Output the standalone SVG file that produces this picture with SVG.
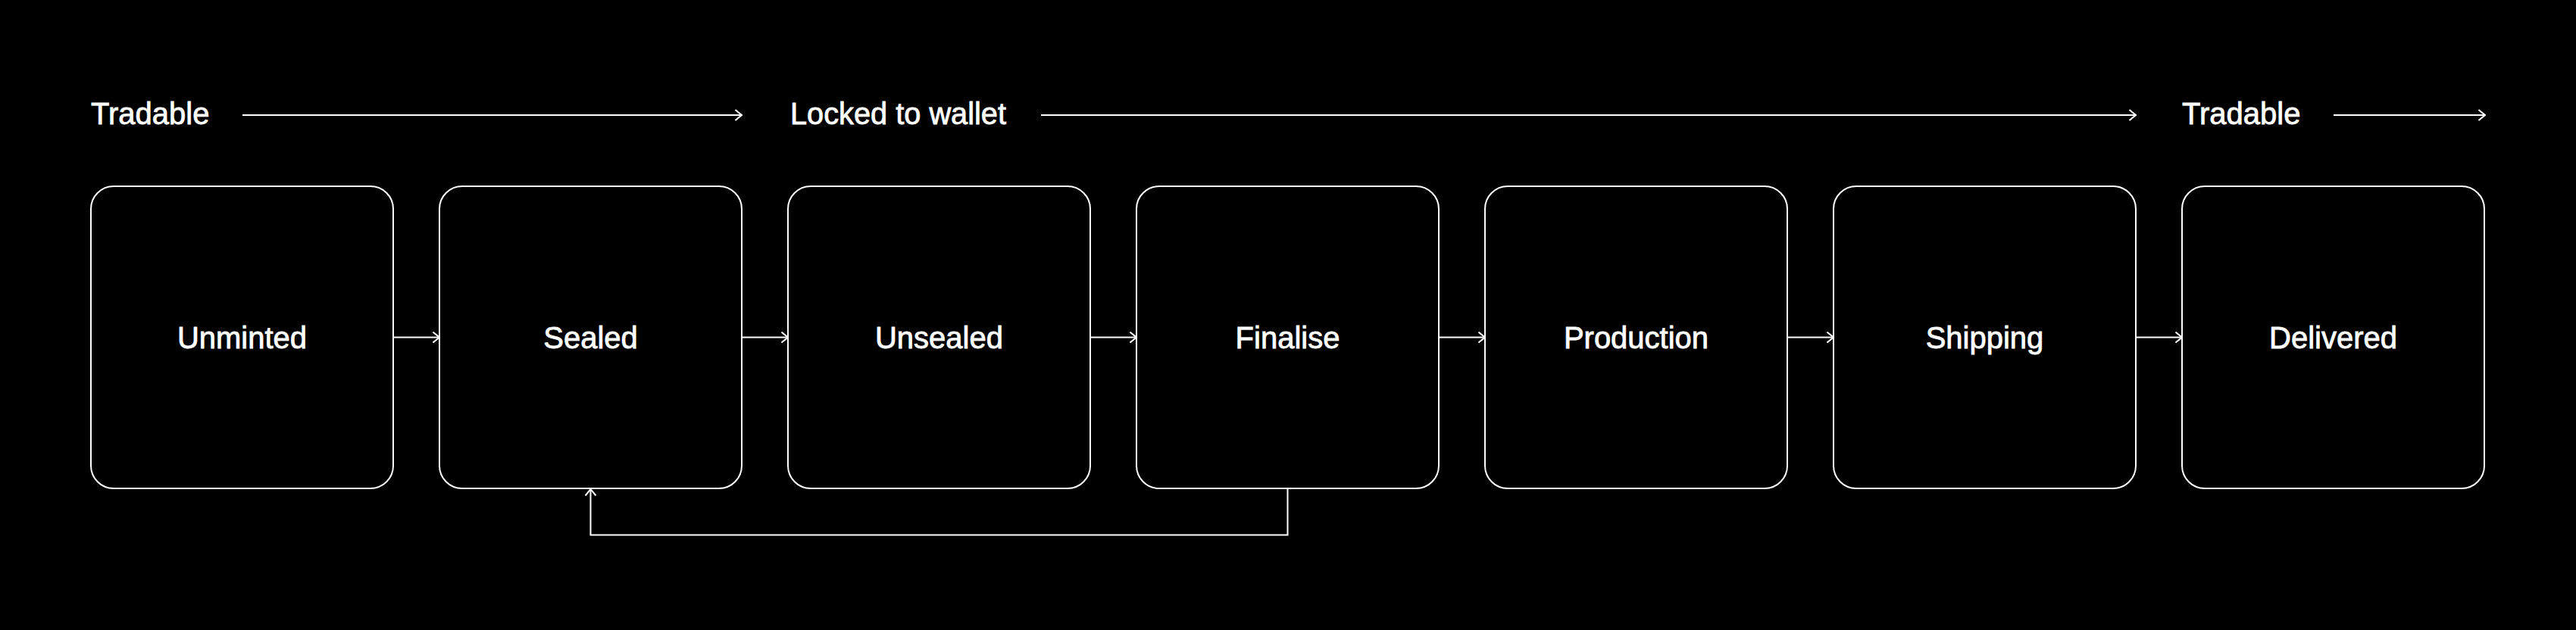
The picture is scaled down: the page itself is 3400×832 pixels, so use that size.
<svg xmlns="http://www.w3.org/2000/svg" width="3400" height="832" viewBox="0 0 3400 832">
  <style>
    .box { fill: #000; stroke: #fff; stroke-width: 2; }
    .lbl { fill: #fff; stroke: #fff; stroke-width: 0.8; font-family: "Liberation Sans", Arial, sans-serif; font-size: 40px; text-anchor: middle; }
    .top { fill: #fff; stroke: #fff; stroke-width: 0.8; font-family: "Liberation Sans", Arial, sans-serif; font-size: 40px; }
    .ln { fill: none; stroke: #fff; stroke-width: 2; }
  </style>
  <defs>
    <marker id="arr" viewBox="0 0 10 16" refX="9.5" refY="8" markerWidth="10" markerHeight="16" markerUnits="userSpaceOnUse" orient="auto">
      <path d="M1,1 L9.5,8 L1,15" fill="none" stroke="#fff" stroke-width="2"/>
    </marker>
  </defs>
  <rect width="3400" height="832" fill="#000"/>

  <g id="phases">
    <text class="top" x="120" y="164">Tradable</text>
    <text class="top" x="1043" y="164" textLength="285" lengthAdjust="spacingAndGlyphs">Locked to wallet</text>
    <text class="top" x="2880" y="164">Tradable</text>
  </g>

  <g id="connectors">
    <path class="ln" d="M320,152 H979" marker-end="url(#arr)"/>
    <path class="ln" d="M1374,152 H2819" marker-end="url(#arr)"/>
    <path class="ln" d="M3080,152 H3280" marker-end="url(#arr)"/>
    <path class="ln" d="M519,445.5 H580" marker-end="url(#arr)"/>
    <path class="ln" d="M979,445.5 H1040" marker-end="url(#arr)"/>
    <path class="ln" d="M1439,445.5 H1500" marker-end="url(#arr)"/>
    <path class="ln" d="M1899,445.5 H1960" marker-end="url(#arr)"/>
    <path class="ln" d="M2359,445.5 H2420" marker-end="url(#arr)"/>
    <path class="ln" d="M2819,445.5 H2880" marker-end="url(#arr)"/>
    <path class="ln" d="M1699.5,645 V706.5 H779.5 V646" marker-end="url(#arr)"/>
  </g>

  <g id="n-unminted"><rect class="box" x="120" y="246" width="399" height="399" rx="30"/><text class="lbl" x="319.5" y="460">Unminted</text></g>
  <g id="n-sealed"><rect class="box" x="580" y="246" width="399" height="399" rx="30"/><text class="lbl" x="779.5" y="460">Sealed</text></g>
  <g id="n-unsealed"><rect class="box" x="1040" y="246" width="399" height="399" rx="30"/><text class="lbl" x="1239.5" y="460">Unsealed</text></g>
  <g id="n-finalise"><rect class="box" x="1500" y="246" width="399" height="399" rx="30"/><text class="lbl" x="1699.5" y="460">Finalise</text></g>
  <g id="n-production"><rect class="box" x="1960" y="246" width="399" height="399" rx="30"/><text class="lbl" x="2159.5" y="460">Production</text></g>
  <g id="n-shipping"><rect class="box" x="2420" y="246" width="399" height="399" rx="30"/><text class="lbl" x="2619.5" y="460">Shipping</text></g>
  <g id="n-delivered"><rect class="box" x="2880" y="246" width="399" height="399" rx="30"/><text class="lbl" x="3079.5" y="460">Delivered</text></g>
</svg>
